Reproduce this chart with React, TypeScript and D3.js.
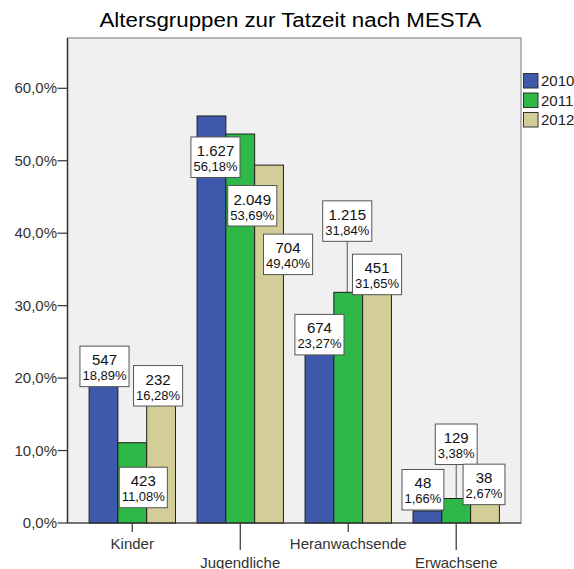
import React from "react";
import * as d3 from "d3";

const categories = ["Kinder", "Jugendliche", "Heranwachsende", "Erwachsene"];
const years = ["2010", "2011", "2012"];
const pct2010 = [18.89, 56.18, 23.27, 1.66];
const pct2011 = [11.08, 53.69, 31.84, 3.38];
const pct2012 = [16.28, 49.4, 31.65, 2.67];
const cnt2010 = ["547", "1.627", "674", "48"];
const cnt2011 = ["423", "2.049", "1.215", "129"];
const cnt2012 = ["232", "704", "451", "38"];
const yTicks = [0, 10, 20, 30, 40, 50, 60];

// layout: label box offsets relative to bar top centre [dx, dyTop, leader]
const labelLayout: [number, number, boolean][][] = [
  [[1, -40, false], [4, 21, false], [0, -40, false], [-4.5, -41.5, false]],
  [[11, 24.5, false], [12, 51.5, false], [-1, -91.5, true], [0, -74.5, true]],
  [[-3, -39.5, false], [19, 69, false], [0, -39.5, false], [-1, -39.5, false]],
];

const colors = ["#3e58ac", "#2eb848", "#d3ce97"];
const FONT = "'Liberation Sans', Arial, sans-serif";

const W = 574;
const H = 569;
const plot = { left: 67.5, right: 521, top: 38, bottom: 523 };

function fmtPct(v: number) {
  return v.toFixed(2).replace(".", ",") + "%";
}

let ctx: CanvasRenderingContext2D | null = null;
function measure(text: string, size: number) {
  if (!ctx) ctx = document.createElement("canvas").getContext("2d");
  if (!ctx) return text.length * size * 0.55;
  ctx.font = `${size}px 'Liberation Sans', Arial, sans-serif`;
  return ctx.measureText(text).width;
}

export default function App() {
  const series = [pct2010, pct2011, pct2012];
  const counts = [cnt2010, cnt2011, cnt2012];
  const y = d3.scaleLinear().domain([0, (plot.bottom - plot.top) / 7.245]).range([plot.bottom, plot.top]);
  const x0 = d3.scaleBand().domain(categories).range([plot.left, plot.right]).paddingInner(0.2).paddingOuter(0.2);
  const x1 = d3.scaleBand().domain(years).range([0, x0.bandwidth()]);

  const bars: React.ReactNode[] = [];
  const labels: React.ReactNode[] = [];
  series.forEach((vals, si) => {
    vals.forEach((v, ci) => {
      const bx = (x0(categories[ci]) as number) + (x1(years[si]) as number);
      const bw = x1.bandwidth();
      const top = y(v);
      bars.push(
        <rect key={`b${si}-${ci}`} x={bx} y={top} width={bw} height={plot.bottom - top}
          fill={colors[si]} stroke="#1e1e1e" strokeWidth={1} />
      );
      const [dx, dy, leader] = labelLayout[si][ci];
      const cx = bx + bw / 2 + dx;
      const by = top + dy;
      const cText = counts[si][ci];
      const pText = fmtPct(v);
      const bwid = Math.max(measure(cText, 15), measure(pText, 13)) + 5;
      const bh = 40.5;
      labels.push(
        <g key={`l${si}-${ci}`}>
          {leader && (
            <line x1={cx} x2={cx} y1={by + bh} y2={top} stroke="#555" strokeWidth={1} />
          )}
          <rect x={cx - bwid / 2} y={by} width={bwid} height={bh} fill="#fff" stroke="#555" strokeWidth={1} />
          <text x={cx} y={by + 19} textAnchor="middle" fontSize={15} fill="#111" fontFamily={FONT}>{cText}</text>
          <text x={cx} y={by + 34} textAnchor="middle" fontSize={13} fill="#111" fontFamily={FONT}>{pText}</text>
        </g>
      );
    });
  });

  return (
    <div style={{ position: "absolute", left: 0, top: 0 }}>
      <svg width={W} height={H} style={{ display: "block", background: "#fff" }}>
        <text x={290.5} y={26.7} textAnchor="middle" fontSize={20} fontFamily={FONT} fill="#000"
          textLength={382} lengthAdjust="spacingAndGlyphs">Altersgruppen zur Tatzeit nach MESTA</text>
        <rect x={plot.left} y={plot.top} width={plot.right - plot.left} height={plot.bottom - plot.top}
          fill="#f0f0f0" stroke="#777" strokeWidth={1} />
        {bars}
        {/* y axis */}
        <line x1={plot.left} x2={plot.left} y1={plot.top} y2={plot.bottom} stroke="#333" strokeWidth={1.5} />
        {yTicks.map((t) => (
          <g key={`yt${t}`}>
            <line x1={plot.left - 10} x2={plot.left} y1={y(t)} y2={y(t)} stroke="#333" strokeWidth={1.2} />
            <text x={plot.left - 10.5} y={y(t) + 5} textAnchor="end" fontSize={15} fill="#333" fontFamily={FONT}>
              {t.toFixed(1).replace(".", ",") + "%"}
            </text>
          </g>
        ))}
        {/* x axis */}
        <line x1={plot.left} x2={plot.right} y1={plot.bottom} y2={plot.bottom} stroke="#333" strokeWidth={1.2} />
        {categories.map((c, i) => {
          const cx = (x0(c) as number) + x0.bandwidth() / 2;
          const low = i % 2 === 1;
          return (
            <g key={`xt${c}`}>
              <line x1={cx} x2={cx} y1={plot.bottom} y2={low ? 550 : 532} stroke="#333" strokeWidth={1.2} />
              <text x={cx} y={low ? 568 : 549} textAnchor="middle" fontSize={15} fill="#333" fontFamily={FONT}>{c}</text>
            </g>
          );
        })}
        {labels}
        {/* legend */}
        {years.map((yr, i) => (
          <g key={`lg${yr}`}>
            <rect x={523.5} y={73.5 + i * 19.5} width={14.5} height={14.5} fill={colors[i]} stroke="#333" strokeWidth={1} />
            <text x={541} y={86 + i * 19.5} fontSize={15} fill="#222" fontFamily={FONT}>{yr}</text>
          </g>
        ))}
      </svg>
    </div>
  );
}
